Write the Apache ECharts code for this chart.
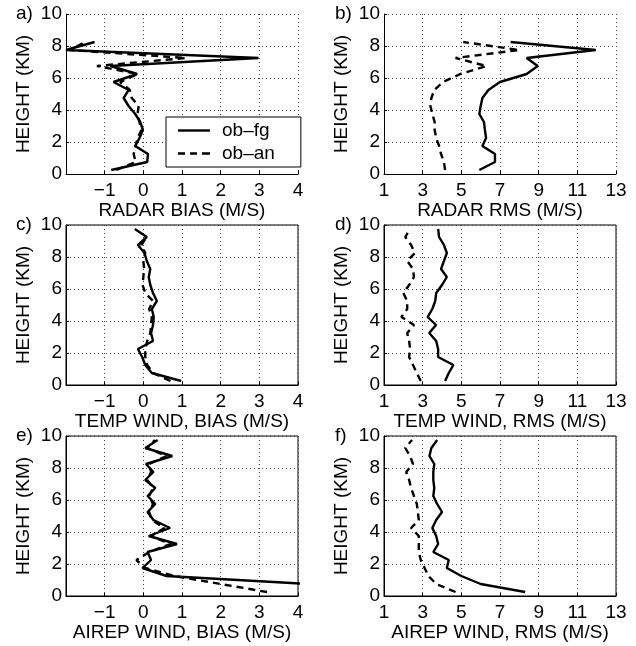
<!DOCTYPE html>
<html>
<head>
<meta charset="utf-8">
<script src="https://cdn.jsdelivr.net/npm/echarts@6/dist/echarts.min.js"></script>
<style>
html,body{margin:0;padding:0;background:#fff;}
#chart{width:636px;height:646px;}
</style>
</head>
<body>
<div id="chart"></div>
<script>
// Heights (km) of the profile levels
const heights = [0.25,0.75,1.25,1.75,2.25,2.75,3.25,3.75,4.25,4.75,5.25,5.75,6.25,6.75,7.25,7.75,8.25,8.75,9.25,9.75];

// a) RADAR BIAS
const radarBiasFg = [-0.83,0.1,0.12,-0.21,-0.1,-0.01,-0.08,-0.21,-0.38,-0.51,-0.38,-0.77,-0.16,-0.85,2.98,-2.0,-1.26,null,null,null];
const radarBiasAn = [-0.7,-0.2,-0.25,-0.2,-0.15,-0.05,-0.1,-0.15,-0.12,-0.3,-0.35,-0.6,-0.15,-1.2,1.1,-1.9,-1.5,null,null,null];
// b) RADAR RMS
const radarRmsFg = [5.93,6.74,6.74,6.09,6.28,6.22,6.17,5.93,6.0,6.09,6.4,7.0,8.38,8.95,8.38,11.95,7.55,null,null,null];
const radarRmsAn = [4.16,4.1,3.95,3.85,3.7,3.62,3.62,3.5,3.4,3.45,3.6,4.05,4.95,6.3,4.7,8.0,5.1,null,null,null];
// c) TEMP WIND BIAS
const tempBiasFg = [0.98,0.22,0.05,-0.03,-0.14,0.25,0.2,0.25,0.27,0.22,0.35,0.25,0.18,0.14,0.18,0.09,0.03,-0.14,0.09,-0.22];
const tempBiasAn = [0.7,0.25,0.1,0.05,0.05,0.1,0.18,0.2,0.22,0.15,0.25,0.05,-0.02,0.0,0.02,0.0,0.05,-0.05,0.08,null];
// d) TEMP WIND RMS
const tempRmsFg = [4.16,4.35,4.59,3.8,3.8,3.7,3.34,3.69,3.26,3.5,3.65,3.7,4.0,4.25,3.95,4.1,4.25,4.1,3.85,3.8];
const tempRmsAn = [2.9,2.7,2.5,2.3,2.35,2.3,2.2,2.55,1.9,2.2,2.2,2.0,2.3,2.55,2.5,2.2,2.6,2.4,2.1,2.35];
// e) AIREP WIND BIAS
const airepBiasFg = [null,4.3,0.6,-0.02,0.2,0.11,0.87,0.14,0.69,0.26,0.11,0.31,0.11,0.31,0.05,0.26,0.07,0.75,0.05,0.37];
const airepBiasAn = [3.2,2.0,0.8,0.05,-0.18,0.15,0.7,0.2,0.55,0.22,0.15,0.25,0.15,0.25,0.1,0.2,0.15,0.6,0.1,0.3];
// f) AIREP WIND RMS
const airepRmsFg = [8.3,6.0,5.0,4.25,4.35,3.55,3.8,3.7,3.5,3.7,4.0,3.75,3.55,3.6,3.55,3.55,3.6,3.35,3.45,3.75];
const airepRmsAn = [4.7,3.7,3.3,3.1,2.9,2.8,2.8,2.8,2.4,2.8,2.75,2.7,2.55,2.4,2.3,2.15,2.5,2.35,2.1,2.45];

const seriesNames = ['ob\u2013fg','ob\u2013an'];
const panelLetters = ['a)','b)','c)','d)','e)','f)'];
const xNames = ['RADAR BIAS (M/S)','RADAR RMS (M/S)','TEMP WIND, BIAS (M/S)','TEMP WIND, RMS (M/S)','AIREP WIND, BIAS (M/S)','AIREP WIND, RMS (M/S)'];
const yName = 'HEIGHT (KM)';
const biasTicks = {min:-2,max:4,interval:1};
const rmsTicks = {min:1,max:13,interval:2};
const yTicks = {min:0,max:10,interval:2};

const panels = [
  [radarBiasFg, radarBiasAn, biasTicks],
  [radarRmsFg, radarRmsAn, rmsTicks],
  [tempBiasFg, tempBiasAn, biasTicks],
  [tempRmsFg, tempRmsAn, rmsTicks],
  [airepBiasFg, airepBiasAn, biasTicks],
  [airepRmsFg, airepRmsAn, rmsTicks]
];

function pairs(xs){
  const out = [];
  xs.forEach((v,i)=>{ if(v!==null) out.push([v, heights[i]]); });
  return out;
}

const FONT = 'Liberation Sans, Arial, Helvetica, sans-serif';
const FS = 19;
const LW = 2.4;
const colLeft = [66, 384];
const rowTop = [14, 225, 436];
const W = 232, Hh = 160;

const grids = [], xAxes = [], yAxes = [], series = [], graphics = [];
panels.forEach((p, i) => {
  const col = i % 2, row = Math.floor(i / 2);
  const boxed = row > 0;
  grids.push({
    left: colLeft[col], top: rowTop[row], width: W, height: Hh,
    show: boxed, borderColor: '#000', borderWidth: 1, backgroundColor: 'transparent'
  });
  const t = p[2];
  xAxes.push({
    type: 'value', gridIndex: i, min: t.min, max: t.max, interval: t.interval,
    name: xNames[i], nameLocation: 'middle', nameGap: 25,
    nameTextStyle: {fontFamily: FONT, fontSize: FS, color: '#000'},
    axisLine: {show: true, onZero: false, lineStyle: {color: '#000', width: 1}},
    axisTick: {show: true, inside: true, length: 3, lineStyle: {color: '#000'}},
    axisLabel: {
      fontFamily: FONT, fontSize: FS, color: '#000', margin: 7,
      formatter: v => (t.min < 0 && v === t.min) ? '' : String(v).replace('-', '\u2212')
    },
    splitLine: {show: true, lineStyle: {color: '#444', width: 1, type: [1, 3]}}
  });
  yAxes.push({
    type: 'value', gridIndex: i, min: yTicks.min, max: yTicks.max, interval: yTicks.interval,
    name: yName, nameLocation: 'middle', nameGap: 33, nameRotate: 90,
    nameTextStyle: {fontFamily: FONT, fontSize: FS, color: '#000'},
    axisLine: {show: true, onZero: false, lineStyle: {color: '#000', width: 1}},
    axisTick: {show: true, inside: true, length: 3, lineStyle: {color: '#000'}},
    axisLabel: {fontFamily: FONT, fontSize: FS, color: '#000', margin: 4},
    splitLine: {show: true, lineStyle: {color: '#444', width: 1, type: [1, 3]}}
  });
  series.push({
    name: seriesNames[0], type: 'line', xAxisIndex: i, yAxisIndex: i,
    data: pairs(p[0]), symbol: 'none', clip: true, z: 3,
    lineStyle: {color: '#000', width: LW, type: 'solid'}, itemStyle: {color: '#000'}
  });
  series.push({
    name: seriesNames[1], type: 'line', xAxisIndex: i, yAxisIndex: i,
    data: pairs(p[1]), symbol: 'none', clip: true, z: 2,
    lineStyle: {color: '#000', width: LW, type: [7, 5]}, itemStyle: {color: '#000'}
  });
  graphics.push({
    type: 'text', left: col === 0 ? 16 : 335, top: rowTop[row] - 10,
    style: {text: panelLetters[i], font: FS + 'px ' + FONT, fill: '#000'}
  });
});

const chart = echarts.init(document.getElementById('chart'), null, {renderer: 'canvas'});
chart.setOption({
  backgroundColor: '#fff',
  animation: false,
  grid: grids, xAxis: xAxes, yAxis: yAxes, series: series,
  graphic: graphics,
  legend: {
    data: [
      {name: seriesNames[0], icon: 'path://M0,0 L32,0 L32,2.4 L0,2.4 Z'},
      {name: seriesNames[1], icon: 'path://M0,0 L7,0 L7,2.4 L0,2.4 Z M12,0 L19,0 L19,2.4 L12,2.4 Z M24,0 L32,0 L32,2.4 L24,2.4 Z'}
    ],
    orient: 'vertical', left: 166, top: 117,
    backgroundColor: '#fff', borderColor: '#000', borderWidth: 1, borderRadius: 0,
    padding: [4, 26, 4, 12], itemWidth: 32, itemHeight: 2.4, itemGap: 4,
    itemStyle: {color: '#000', borderWidth: 0},
    textStyle: {fontFamily: FONT, fontSize: FS, color: '#000', padding: [0, 0, 0, 7]}
  }
});
</script>
</body>
</html>
